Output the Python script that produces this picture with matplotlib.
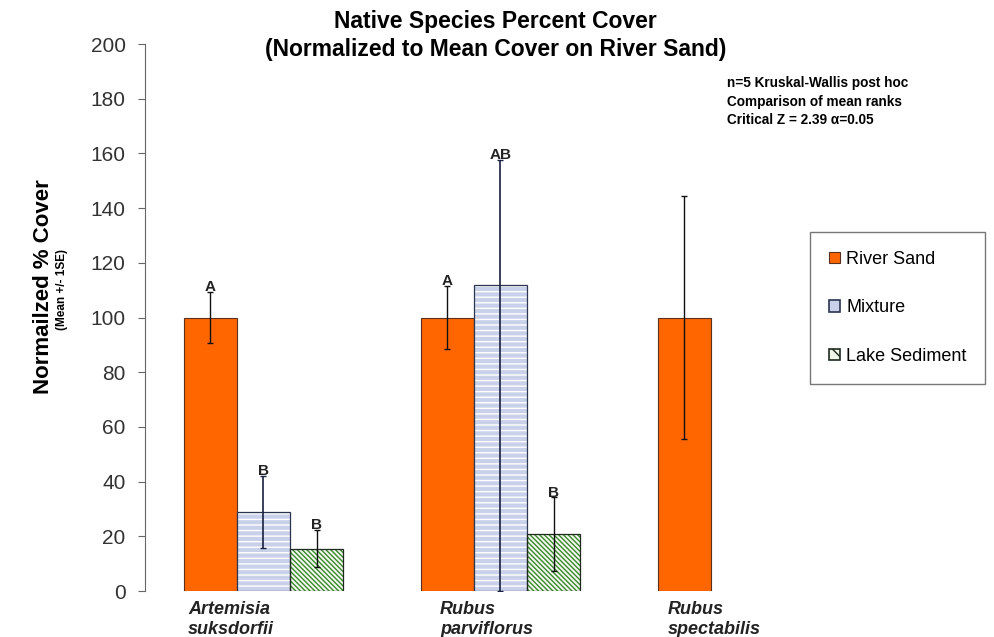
import numpy as np
import matplotlib.pyplot as plt

plt.rcParams['font.family'] = ['Liberation Sans', 'DejaVu Sans']
plt.rcParams['hatch.linewidth'] = 1.0

# data
species = ['Artemisia\nsuksdorfii', 'Rubus\nparviflorus', 'Rubus\nspectabilis']
river_sand = [100, 100, 100]
river_err = [9.3, 11.5, 44.6]
mixture = [29, 112, np.nan]
mixture_err_up = [13.2, 45.5, np.nan]
mixture_err_down = [13.2, 112, np.nan]
lake = [15.5, 20.8, np.nan]
lake_err = [6.7, 13.4, np.nan]
river_letters = ['A', 'A', '']
mixture_letters = ['B', 'AB', '']
lake_letters = ['B', 'B', '']

fig = plt.figure(figsize=(9.95, 6.37), dpi=100)
ax = fig.add_axes([0.1457, 0.0722, 0.7146, 0.8587])

x = np.arange(len(species))
w = 0.224

orange = '#FF6600'
blue = '#C9D1EA'
green = '#3B8A2E'

# river sand
ax.bar(x - w, river_sand, w, color=orange, edgecolor='#5a3020', linewidth=0.8, zorder=2)
# mixture: white horizontal stripes on light blue
ax.bar(x, mixture, w, color=blue, edgecolor='white', hatch='---', linewidth=0, zorder=2)
ax.bar(x, mixture, w, fill=False, edgecolor='#2b3550', linewidth=0.9, zorder=3)
# lake sediment: green diagonal stripes
ax.bar(x + w, lake, w, color='#F2F8EE', edgecolor=green, hatch='\\' * 7, linewidth=0, zorder=2)
ax.bar(x + w, lake, w, fill=False, edgecolor='#1d2a1d', linewidth=0.9, zorder=3)

ax.errorbar(x - w, river_sand, yerr=river_err, fmt='none', ecolor='#111111',
            elinewidth=1, capsize=2.5, capthick=1, zorder=4)
ax.errorbar(x, mixture, yerr=[mixture_err_down, mixture_err_up], fmt='none',
            ecolor='#1a2040', elinewidth=1.2, capsize=2.5, capthick=1, zorder=4)
ax.errorbar(x + w, lake, yerr=lake_err, fmt='none', ecolor='#111111',
            elinewidth=1, capsize=2.5, capthick=1, zorder=4)

for off, vals, errs, labs in [(-w, river_sand, river_err, river_letters),
                              (0, mixture, mixture_err_up, mixture_letters),
                              (w, lake, lake_err, lake_letters)]:
    for i, lab in enumerate(labs):
        if lab:
            ax.text(x[i] + off, vals[i] + errs[i] - 0.8, lab, ha='center', va='bottom',
                    fontsize=11, fontweight='bold', color='#222222', zorder=5)

ax.set_xlim(-0.5, 2.5)
ax.set_ylim(0, 200)
ax.set_yticks(np.arange(0, 201, 20))
ax.set_xticks([])
for s in ['top', 'right', 'bottom']:
    ax.spines[s].set_visible(False)
ax.spines['left'].set_color('#666666')
ax.tick_params(axis='y', direction='out', length=5, color='#666666',
               labelsize=15, labelcolor='#333333', pad=9)

# species names under the groups
shift = [-0.318, -0.255, -0.293]
for i, name in enumerate(species):
    ax.text(x[i] + shift[i], -3.5, name, ha='left', va='top', fontsize=13,
            fontweight='bold', fontstyle='italic', color='#222222',
            linespacing=1.25, clip_on=False)

fig.text(0.498, 0.985, 'Native Species Percent Cover\n(Normalized to Mean Cover on River Sand)',
         ha='center', va='top', fontsize=16.5, fontweight='bold', linespacing=1.3)
fig.text(0.044, 0.55, 'Normailzed % Cover', rotation=90, ha='center', va='center',
         fontsize=16, fontweight='bold')
fig.text(0.062, 0.545, '(Mean +/- 1SE)', rotation=90, ha='center', va='center',
         fontsize=8.5, fontweight='bold')

fig.text(0.731, 0.88, 'n=5 Kruskal-Wallis post hoc\nComparison of mean ranks\nCritical Z = 2.39 \u03b1=0.05',
         ha='left', va='top', fontsize=9.8, fontweight='bold', linespacing=1.4)

handles = [
    plt.Rectangle((0, 0), 1, 1, facecolor=orange, edgecolor='#5a3020', linewidth=0.8),
    plt.Rectangle((0, 0), 1, 1, facecolor=blue, edgecolor='#2b3550', linewidth=1.2),
    plt.Rectangle((0, 0), 1, 1, facecolor='#EEF6E8', edgecolor='#1d2a1d', hatch='\\\\', linewidth=1.2),
]
leg = fig.legend(handles, ['River Sand', 'Mixture', 'Lake Sediment'],
                 loc='upper left', bbox_to_anchor=(0.814, 0.636), fontsize=13,
                 handlelength=0.6, handleheight=0.6, handletextpad=0.35,
                 labelspacing=1.75, borderpad=1.05, fancybox=False, framealpha=1,
                 borderaxespad=0)
leg.get_frame().set_edgecolor('#777777')
leg.get_frame().set_linewidth(1)

fig.savefig('out.png', dpi=100)
